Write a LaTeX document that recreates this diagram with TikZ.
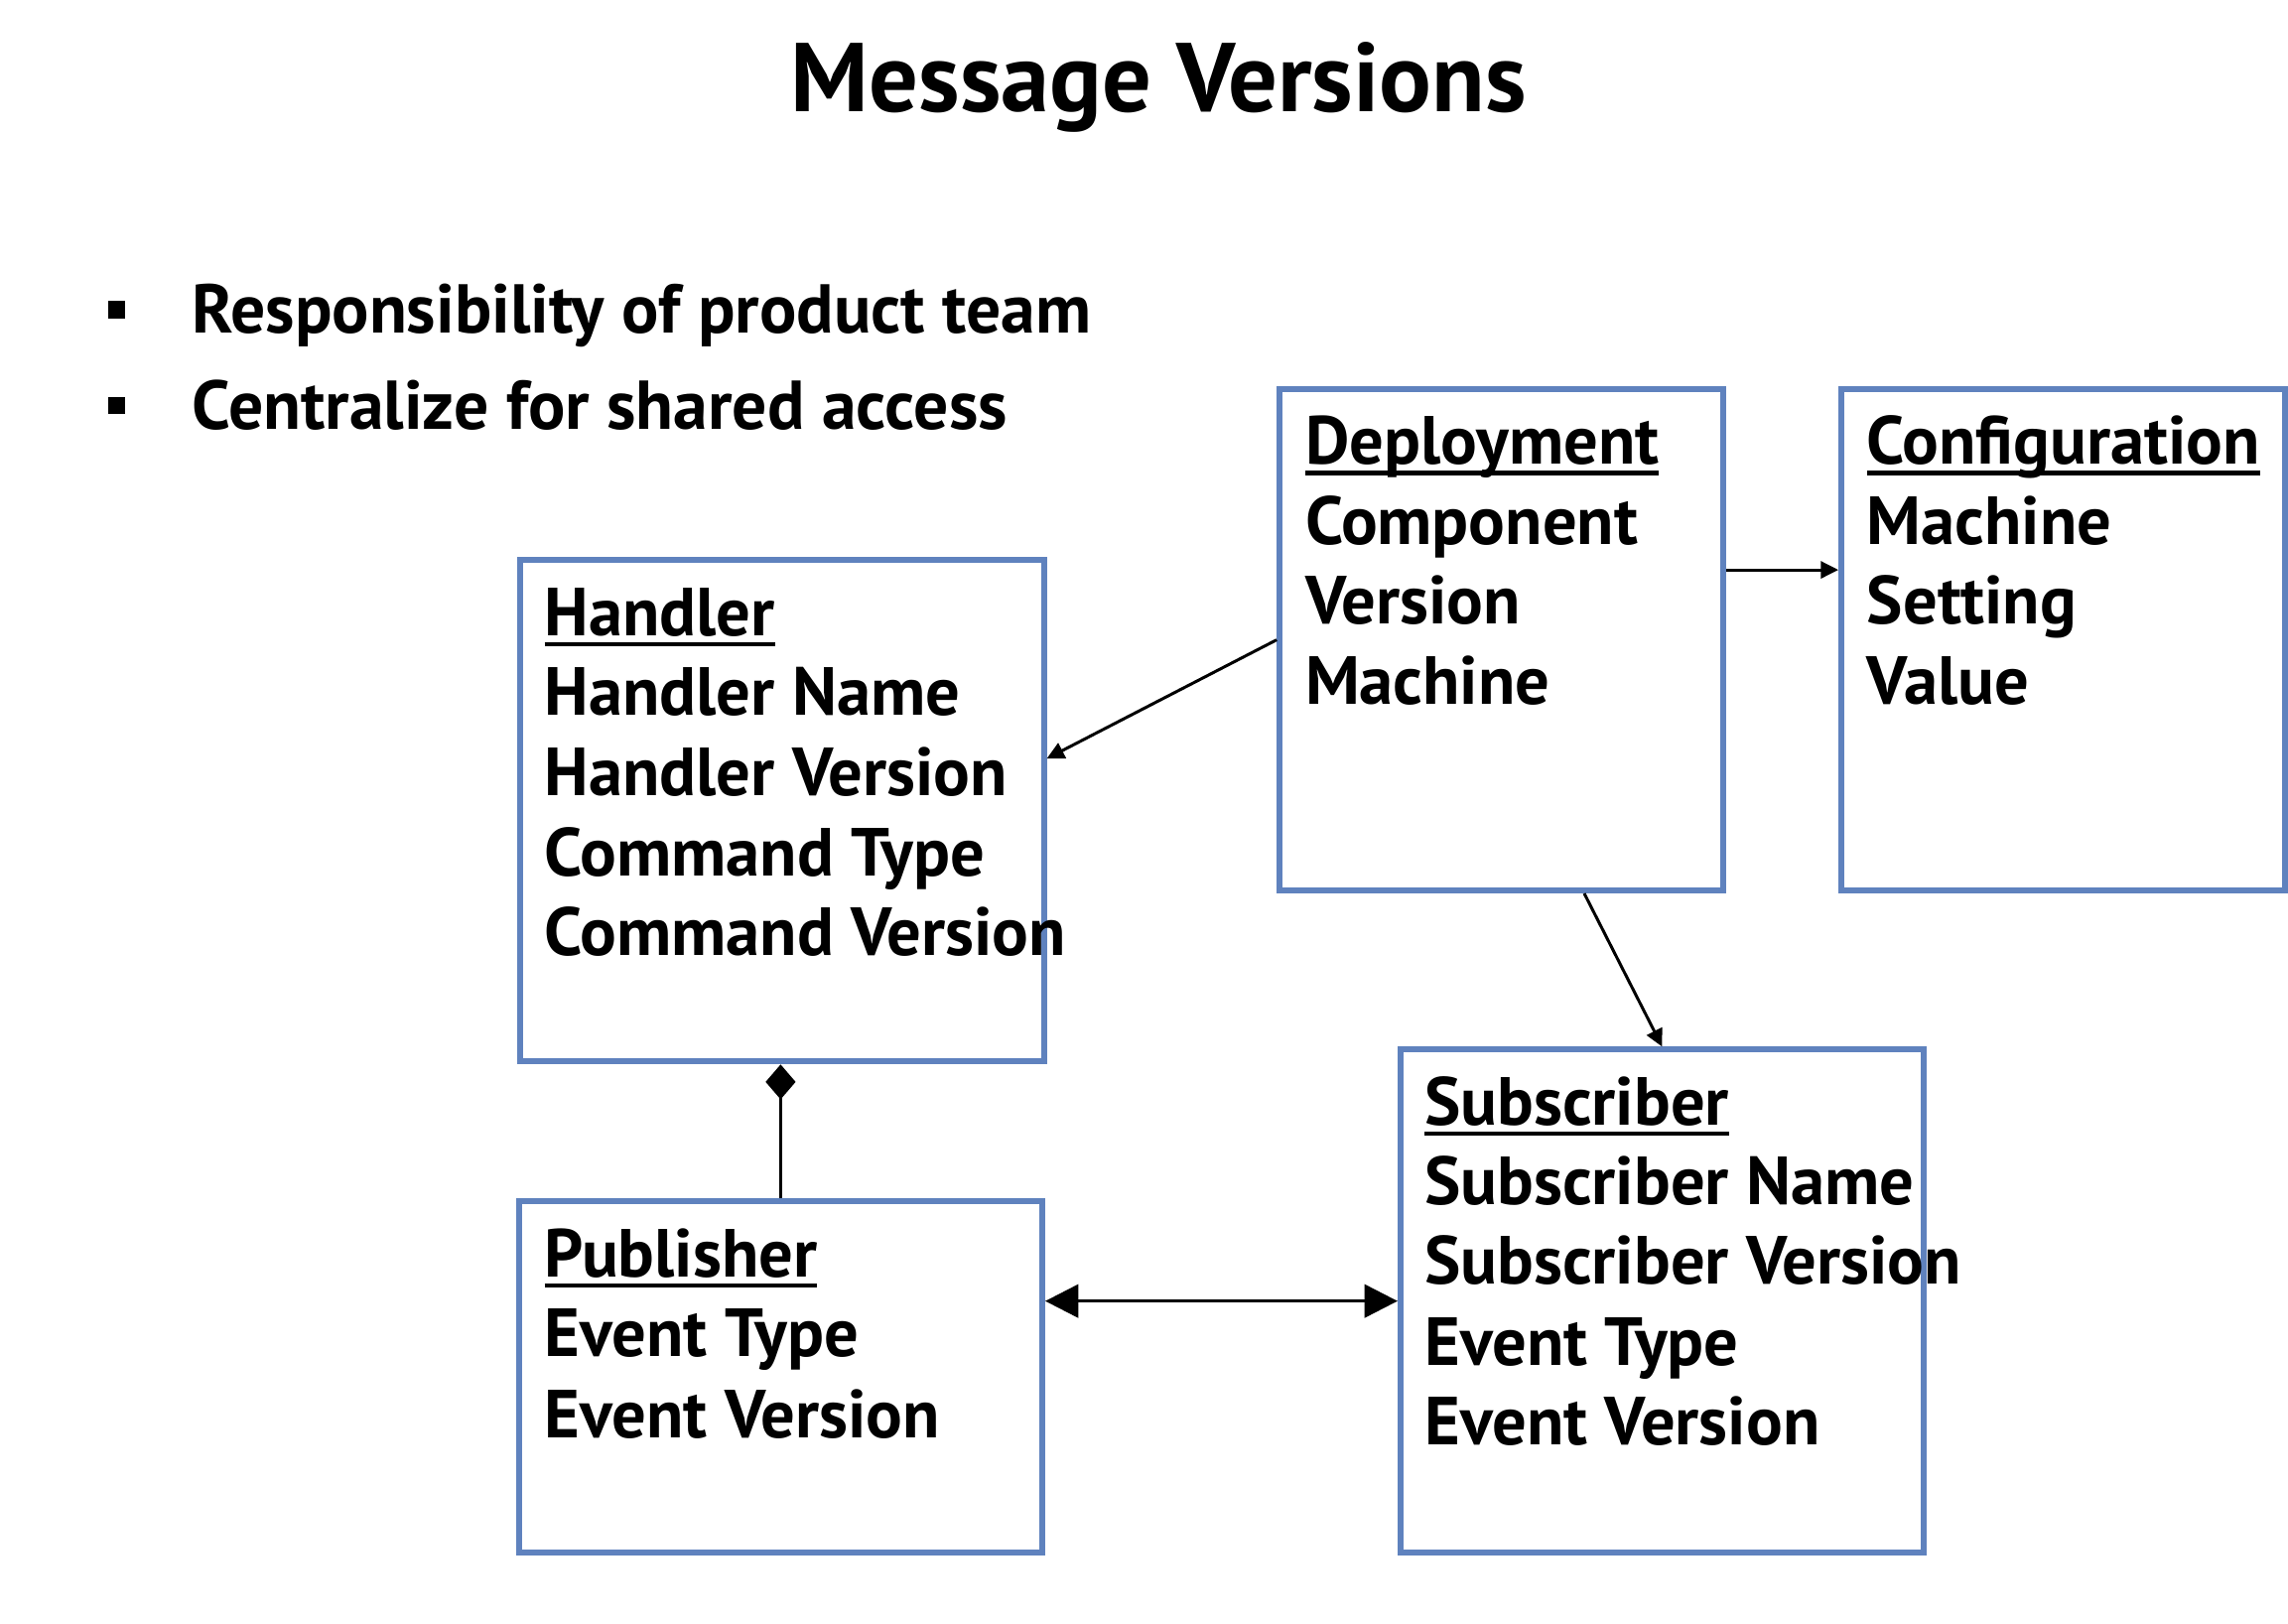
\documentclass[tikz,border=0pt]{standalone}
\usepackage{fontspec}
\setmainfont{PT Sans}
\usetikzlibrary{arrows.meta,calc}
\definecolor{boxblue}{RGB}{95,130,190}
\newcommand{\myul}[1]{\setbox0\hbox{#1}\rlap{\rule[-0.16em]{\wd0}{0.065em}}\box0}
\tikzset{
  umlbox/.style={draw=boxblue,line width=1.7pt,rectangle,inner sep=0pt,anchor=north west},
  txt/.style={anchor=base west,inner sep=0pt,font=\fontsize{19.5pt}{22pt}\selectfont\bfseries},
  btxt/.style={anchor=base west,inner sep=0pt,font=\fontsize{19.8pt}{22pt}\selectfont\bfseries},
  bul/.style={fill=black,inner sep=0pt,minimum size=5pt},
  conn/.style={line width=0.85pt,-{Triangle[length=5pt,width=4.8pt]}},
  big/.style={line width=0.9pt,{Triangle[length=9.5pt,width=9.5pt]}-{Triangle[length=9.5pt,width=9.5pt]}},
  comp/.style={line width=0.85pt,-{Diamond[length=10pt,width=8.6pt]}},
}
\begin{document}
\begin{tikzpicture}[x=0.14852mm,y=-0.14852mm]
\useasboundingbox (0,0) rectangle (1552,1101);
% title
\node[anchor=base,inner sep=0pt,font=\fontsize{28pt}{32pt}\selectfont\bfseries] (title) at (786,76) {Message Versions};
% bullets
\node[bul] (b1) at (79,210) {};
\node[bul] (b2) at (79,275) {};
\node[btxt] (t1) at (130,226) {Responsibility of product team};
\node[btxt] (t2) at (130,291) {Centralize for shared access};
% boxes
\node[umlbox,minimum width=301*0.14852mm,minimum height=340*0.14852mm] (dep) at (866,262) {};
\node[umlbox,minimum width=301*0.14852mm,minimum height=340*0.14852mm] (conf) at (1247,262) {};
\node[umlbox,minimum width=355*0.14852mm,minimum height=340*0.14852mm] (hnd) at (351,378) {};
\node[umlbox,minimum width=355*0.14852mm,minimum height=341*0.14852mm] (sub) at (948,710) {};
\node[umlbox,minimum width=355*0.14852mm,minimum height=238*0.14852mm] (pub) at (350,813) {};
% deployment text
\node[txt] (dep1) at (885,315) {\myul{Deployment}};
\node[txt] (dep2) at (885,369) {Component};
\node[txt] (dep3) at (885,423) {Version};
\node[txt] (dep4) at (885,478) {Machine};
% configuration text
\node[txt] (conf1) at (1266,315) {\myul{Configuration}};
\node[txt] (conf2) at (1266,369) {Machine};
\node[txt] (conf3) at (1266,423) {Setting};
\node[txt] (conf4) at (1266,478) {Value};
% handler text
\node[txt] (h1) at (369,431) {\myul{Handler}};
\node[txt] (h2) at (369,485) {Handler Name};
\node[txt] (h3) at (369,540) {Handler Version};
\node[txt] (h4) at (369,594) {Command Type};
\node[txt] (h5) at (369,648) {Command Version};
% subscriber text
\node[txt] (s1) at (966,763) {\myul{Subscriber}};
\node[txt] (s2) at (966,817) {Subscriber Name};
\node[txt] (s3) at (966,871) {Subscriber Version};
\node[txt] (s4) at (966,926) {Event Type};
\node[txt] (s5) at (966,980) {Event Version};
% publisher text
\node[txt] (p1) at (369,866) {\myul{Publisher}};
\node[txt] (p2) at (369,920) {Event Type};
\node[txt] (p3) at (369,975) {Event Version};
% connectors
\draw[conn] (dep.west) -- ($(hnd.north east)!0.397!(hnd.south east)$);
\draw[conn] ($(dep.north east)!0.362!(dep.south east)$) coordinate (dc) -- (dc -| conf.west);
\draw[conn] ($(dep.south west)!0.684!(dep.south east)$) -- (sub.north);
\draw[comp] (pub.north) -- (pub.north |- hnd.south);
\draw[big] (pub.east |- sub.west) -- (sub.west);
\end{tikzpicture}
\end{document}
